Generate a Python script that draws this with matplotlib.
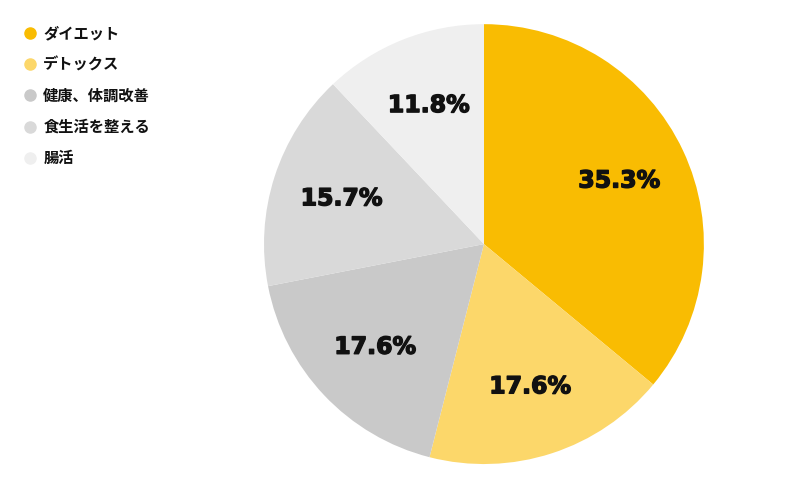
import matplotlib
matplotlib.use("Agg")
import numpy as np
import matplotlib.pyplot as plt
import matplotlib.patheffects as pe
from matplotlib.lines import Line2D

plt.rcParams["font.family"] = ["Noto Sans CJK JP", "DejaVu Sans"]

# share of responses (percent of 51 answers; slices normalised over the drawn ones)
categories = ["ダイエット", "デトックス", "健康、体調改善", "食生活を整える", "腸活"]
values = [35.3, 17.6, 17.6, 15.7, 11.8]
pct_labels = ["35.3%", "17.6%", "17.6%", "15.7%", "11.8%"]
colors = ["#F9BC02", "#FCD76A", "#C9C9C9", "#D9D9D9", "#EFEFEF"]

fig = plt.figure(figsize=(7.94, 4.88), dpi=100)
ax = fig.add_axes([0.3325, 0.049, 0.554, 0.9016])

wedges, _ = ax.pie(
    values,
    colors=colors,
    startangle=90,
    counterclock=False,
    radius=1.0,
    wedgeprops=dict(linewidth=0),
)

# percentage labels inside the wedges
for w, lab in zip(wedges, pct_labels):
    mid = np.deg2rad((w.theta1 + w.theta2) / 2.0)
    r = 0.68
    ax.text(r * np.cos(mid), r * np.sin(mid), lab, ha="center", va="center",
            fontsize=17, fontweight="bold", family=["DejaVu Sans"],
            color="#111111",
            path_effects=[pe.withStroke(linewidth=1.0, foreground="#111111")])

ax.set_xlim(-1, 1)
ax.set_ylim(-1, 1)
ax.set_aspect("equal")
ax.axis("off")

handles = [
    Line2D([0], [0], marker="o", linestyle="none", markersize=8,
           markerfacecolor=c, markeredgecolor=c)
    for c in colors
]
leg = fig.legend(
    handles, categories,
    loc="upper left",
    bbox_to_anchor=(0.018, 0.961),
    frameon=False,
    fontsize=11,
    handletextpad=0.3,
    handlelength=1.2,
    labelspacing=1.0,
    borderaxespad=0,
)
for t in leg.get_texts():
    t.set_fontweight("bold")
    t.set_color("#111111")

fig.savefig("out.png", dpi=100)
